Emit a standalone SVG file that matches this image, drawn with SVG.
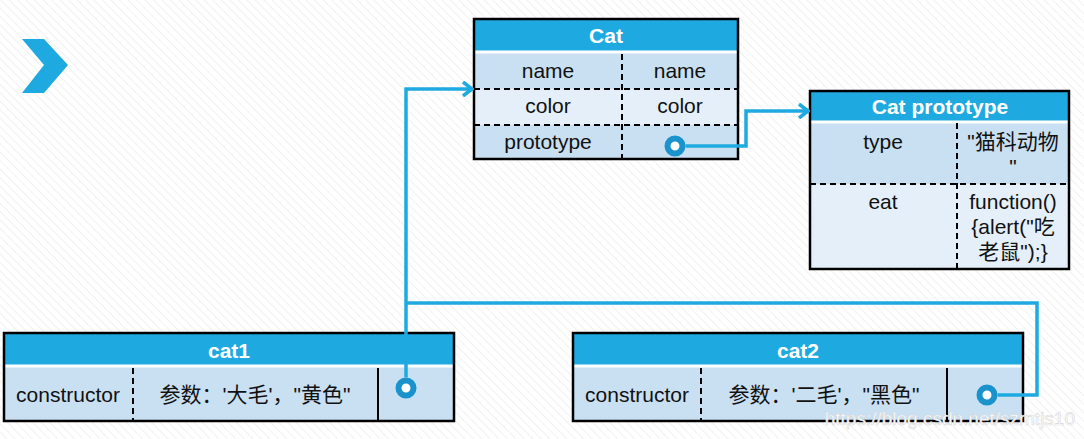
<svg xmlns="http://www.w3.org/2000/svg" width="1084" height="439" viewBox="0 0 1084 439">
<defs>
<pattern id="bg" width="6" height="6" patternUnits="userSpaceOnUse" patternTransform="rotate(-45)">
<rect width="6" height="6" fill="#ffffff"/>
<line x1="0" y1="0" x2="0" y2="6" stroke="#f1f1f1" stroke-width="2"/>
</pattern>
<marker id="arr" markerWidth="14" markerHeight="16" refX="12" refY="8" orient="auto" markerUnits="userSpaceOnUse">
<path d="M3,1 L12,8 L3,15" fill="none" stroke="#1EAAE0" stroke-width="3.5"/>
</marker>
</defs>
<style>
.hdr{fill:#1EAAE0}
.r1{fill:#C9E0F3}
.r2{fill:#E4EFF9}
.frame{fill:none;stroke:#000;stroke-width:2.5}
.dash{stroke:#000;stroke-width:2;stroke-dasharray:6,4;fill:none}
.solid{stroke:#000;stroke-width:2;fill:none}
.sep{stroke:#fff;stroke-width:3}
.ht{font-family:"Liberation Sans",Arial,sans-serif;font-weight:bold;font-size:21px;fill:#fff;text-anchor:middle}
.t{font-family:"Liberation Sans","Noto Sans CJK SC",sans-serif;font-size:21px;fill:#111;text-anchor:middle}
.conn{fill:none;stroke:#1EAAE0;stroke-width:3.5}
.dot{fill:#fff;stroke:#1A92CC;stroke-width:6}
</style>
<rect width="1084" height="439" fill="url(#bg)"/>
<polygon points="22,39 44,39 68,65 44,93 22,93 44,65" fill="#1EAAE0"/>

<g id="cat">
<rect x="474" y="19" width="264" height="33" class="hdr"/>
<rect x="474" y="53" width="264" height="36" class="r1"/>
<rect x="474" y="89" width="264" height="36" class="r2"/>
<rect x="474" y="125" width="264" height="34" class="r1"/>
<line x1="474" y1="52" x2="738" y2="52" class="sep"/>
<line x1="474" y1="89" x2="738" y2="89" class="dash"/>
<line x1="474" y1="125" x2="738" y2="125" class="dash"/>
<line x1="622" y1="54" x2="622" y2="159" class="dash"/>
<rect x="474" y="19" width="264" height="140" class="frame"/>
<text x="606" y="43" class="ht">Cat</text>
<text x="548" y="78" class="t">name</text>
<text x="680" y="78" class="t">name</text>
<text x="548" y="113" class="t">color</text>
<text x="680" y="113" class="t">color</text>
<text x="548" y="149" class="t">prototype</text>
<circle cx="675" cy="146" r="7.5" class="dot"/>
</g>

<g id="cat-prototype">
<rect x="810" y="91" width="259" height="30" class="hdr"/>
<rect x="810" y="122" width="259" height="62" class="r1"/>
<rect x="810" y="184" width="259" height="85" class="r2"/>
<line x1="810" y1="122" x2="1069" y2="122" class="sep"/>
<line x1="810" y1="184" x2="1069" y2="184" class="dash"/>
<line x1="957" y1="123" x2="957" y2="269" class="dash"/>
<rect x="810" y="91" width="259" height="178" class="frame"/>
<text x="940" y="114" class="ht">Cat prototype</text>
<text x="883" y="149" class="t">type</text>
<text x="1013" y="149" class="t">"猫科动物</text>
<text x="1013" y="174" class="t">"</text>
<text x="883" y="209" class="t">eat</text>
<text x="1013" y="209" class="t">function()</text>
<text x="1013" y="234" class="t">{alert("吃</text>
<text x="1013" y="259" class="t">老鼠");}</text>
</g>

<g id="cat1">
<rect x="4" y="333" width="450" height="33" class="hdr"/>
<rect x="4" y="367" width="450" height="54" class="r1"/>
<line x1="4" y1="366" x2="454" y2="366" class="sep"/>
<line x1="133" y1="368" x2="133" y2="421" class="dash"/>
<line x1="378" y1="368" x2="378" y2="421" class="solid"/>
<rect x="4" y="333" width="450" height="88" class="frame"/>
<text x="229" y="358" class="ht">cat1</text>
<text x="68" y="402" class="t">constructor</text>
<text x="255" y="402" class="t">参数：'大毛'，"黄色"</text>
<circle cx="406" cy="388" r="7.5" class="dot"/>
</g>

<g id="cat2">
<rect x="573" y="333" width="450" height="33" class="hdr"/>
<rect x="573" y="367" width="450" height="54" class="r1"/>
<line x1="573" y1="366" x2="1023" y2="366" class="sep"/>
<line x1="701" y1="368" x2="701" y2="421" class="dash"/>
<line x1="947" y1="368" x2="947" y2="421" class="solid"/>
<rect x="573" y="333" width="450" height="88" class="frame"/>
<text x="798" y="358" class="ht">cat2</text>
<text x="637" y="402" class="t">constructor</text>
<text x="824" y="402" class="t">参数：'二毛'，"黑色"</text>
<circle cx="987" cy="395" r="7.5" class="dot"/>
</g>

<g id="connectors">
<path class="conn" d="M406,377.5 V89 H472" marker-end="url(#arr)"/>
<path class="conn" d="M406,303 H1037 V395 H997.5"/>
<path class="conn" d="M685.5,146 H746 V111 H808" marker-end="url(#arr)"/>
</g>

<text x="1075" y="425" font-family="Liberation Sans,Arial,sans-serif" font-size="19" fill="#ffffff" stroke="#d8d8d8" stroke-width="0.6" text-anchor="end">https://blog.csdn.net/szmtjs10</text>
</svg>
